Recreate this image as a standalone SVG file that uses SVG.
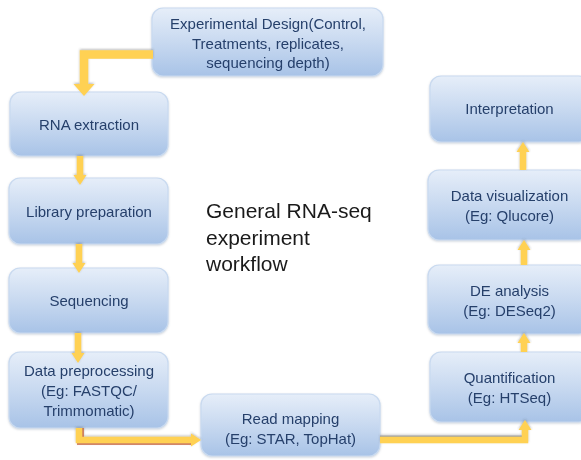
<svg xmlns="http://www.w3.org/2000/svg" width="581" height="460" viewBox="0 0 581 460">
<style>
.box{fill:url(#g);stroke:#c9daf0;stroke-width:1.2}
.t{font-family:"Liberation Sans",Arial,sans-serif;font-size:15px;fill:#253f6b;text-anchor:middle}
.title{font-family:"Liberation Sans",Arial,sans-serif;font-size:21px;fill:#1a1a1a}
.ar{fill:none;stroke:#ffd152;stroke-width:6.5;stroke-linejoin:miter}
</style>
<defs>
<linearGradient id="g" x1="0" y1="0" x2="0" y2="1">
<stop offset="0" stop-color="#e6eef9"/>
<stop offset="0.5" stop-color="#c8d9f0"/>
<stop offset="1" stop-color="#a8c3e7"/>
</linearGradient>
<filter id="sh" x="-10%" y="-10%" width="120%" height="130%">
<feDropShadow dx="0" dy="1" stdDeviation="1.2" flood-color="#6f7f95" flood-opacity="0.35"/>
</filter>
<filter id="ash" x="-20%" y="-20%" width="140%" height="140%">
<feDropShadow dx="0" dy="-1" stdDeviation="1" flood-color="#555" flood-opacity="0.4"/>
</filter>
<marker id="ah" markerUnits="userSpaceOnUse" markerWidth="11" markerHeight="14" viewBox="0 -7 11 14" refX="0" refY="0" orient="auto" overflow="visible">
<path d="M0,-6.5 L10,0 L0,6.5 Z" fill="#ffd152"/>
</marker>
<marker id="ahb" markerUnits="userSpaceOnUse" markerWidth="13" markerHeight="22" viewBox="0 -11 13 22" refX="0" refY="0" orient="auto" overflow="visible">
<path d="M0,-10.5 L12,0 L0,10.5 Z" fill="#ffd152"/>
</marker>
</defs>
<rect width="581" height="460" fill="#ffffff"/>

<g id="exp" filter="url(#sh)">
<rect class="box" x="152" y="8" width="231" height="68" rx="11"/>
<text class="t" x="268" y="29">Experimental Design(Control,</text>
<text class="t" x="268" y="49">Treatments, replicates,</text>
<text class="t" x="268" y="68">sequencing depth)</text>
</g>
<g id="rna" filter="url(#sh)">
<rect class="box" x="10" y="92" width="158" height="64" rx="11"/>
<text class="t" x="89" y="130">RNA extraction</text>
</g>
<g id="lib" filter="url(#sh)">
<rect class="box" x="9" y="178" width="159" height="66" rx="11"/>
<text class="t" x="89" y="217">Library preparation</text>
</g>
<g id="seq" filter="url(#sh)">
<rect class="box" x="9" y="268" width="159" height="65" rx="11"/>
<text class="t" x="89" y="306">Sequencing</text>
</g>
<g id="pre" filter="url(#sh)">
<rect class="box" x="9" y="352" width="159" height="76" rx="11"/>
<text class="t" x="89" y="376">Data preprocessing</text>
<text class="t" x="89" y="396">(Eg: FASTQC/</text>
<text class="t" x="89" y="416">Trimmomatic)</text>
</g>
<g id="read" filter="url(#sh)">
<rect class="box" x="201" y="394" width="179" height="62" rx="11"/>
<text class="t" x="290.5" y="424">Read mapping</text>
<text class="t" x="290.5" y="444">(Eg: STAR, TopHat)</text>
</g>
<g id="interp" filter="url(#sh)">
<rect class="box" x="430" y="76" width="160" height="66" rx="11"/>
<text class="t" x="509.5" y="114">Interpretation</text>
</g>
<g id="vis" filter="url(#sh)">
<rect class="box" x="428" y="170" width="162" height="70" rx="11"/>
<text class="t" x="509.5" y="201">Data visualization</text>
<text class="t" x="509.5" y="221">(Eg: Qlucore)</text>
</g>
<g id="de" filter="url(#sh)">
<rect class="box" x="428" y="265" width="162" height="69" rx="11"/>
<text class="t" x="509.5" y="296">DE analysis</text>
<text class="t" x="509.5" y="316">(Eg: DESeq2)</text>
</g>
<g id="quant" filter="url(#sh)">
<rect class="box" x="430" y="352" width="160" height="70" rx="11"/>
<text class="t" x="509.5" y="383">Quantification</text>
<text class="t" x="509.5" y="403">(Eg: HTSeq)</text>
</g>

<g id="connectors" filter="url(#ash)">
<path class="ar" d="M153,54.5 H84 V84" style="stroke-width:8.5" marker-end="url(#ahb)"/>
<path class="ar" d="M80,156 V175" marker-end="url(#ah)"/>
<path class="ar" d="M79,244 V263" marker-end="url(#ah)"/>
<path class="ar" d="M78,333 V353" marker-end="url(#ah)"/>
<path d="M80.5,428 V441.5 H192" fill="none" stroke="#c8643c" stroke-width="7" opacity="0.75"/>
<path class="ar" d="M79,428 V440 H191" marker-end="url(#ah)"/>
<path d="M380,437.5 H522" fill="none" stroke="#8a8a8a" stroke-width="4" opacity="0.6"/>
<path class="ar" d="M380,440 H525 V430" marker-end="url(#ah)"/>
<path class="ar" d="M524,352 V343" marker-end="url(#ah)"/>
<path class="ar" d="M524,265 V250" marker-end="url(#ah)"/>
<path class="ar" d="M523,170 V152" marker-end="url(#ah)"/>
</g>

<g id="title">
<text class="title" x="206" y="218">General RNA-seq</text>
<text class="title" x="206" y="245">experiment</text>
<text class="title" x="206" y="271">workflow</text>
</g>
</svg>
